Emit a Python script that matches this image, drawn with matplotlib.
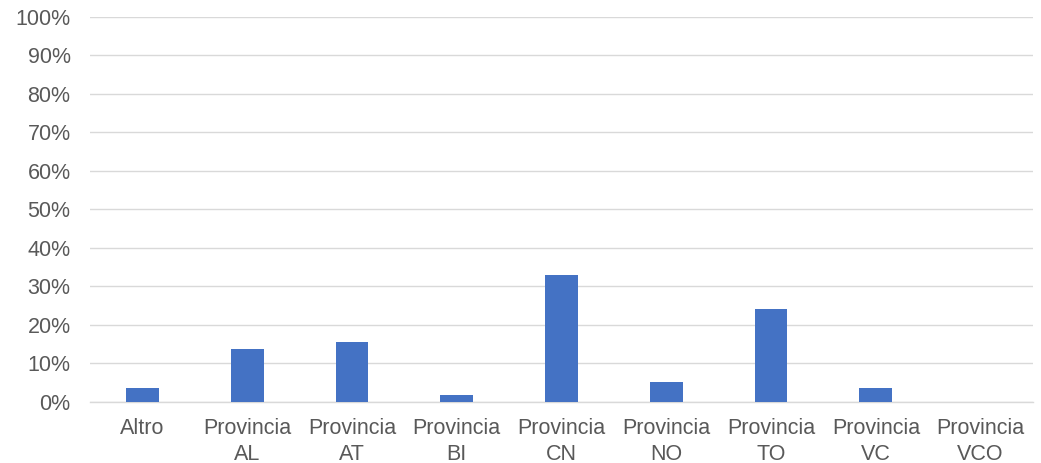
import matplotlib.pyplot as plt
from matplotlib.ticker import PercentFormatter

plt.rcParams['font.family'] = ['Liberation Sans', 'DejaVu Sans']

categories = ['Altro', 'Provincia\nAL', 'Provincia\nAT', 'Provincia\nBI', 'Provincia\nCN',
              'Provincia\nNO', 'Provincia\nTO', 'Provincia\nVC', 'Provincia\nVCO']
values = [3.4, 13.7, 15.5, 1.8, 32.8, 5.2, 24.0, 3.4, 0.0]

fig = plt.figure(figsize=(10.41, 4.63), dpi=100)
ax = fig.add_axes([90 / 1041, 1 - 401.5 / 463, 943 / 1041, 384.5 / 463])

x = list(range(len(categories)))
ax.bar(x, values, width=0.313, color='#4472C4', zorder=3)

ax.set_xlim(-0.5, len(categories) - 0.5)
ax.set_ylim(0, 100)
ax.set_yticks(range(0, 101, 10))
ax.yaxis.set_major_formatter(PercentFormatter(decimals=0))
ax.set_xticks(x)
ax.set_xticklabels(categories, linespacing=1.3)

ax.grid(True, axis='y', color='#D9D9D9', linewidth=1.0, zorder=0)
for s in ['top', 'right', 'left']:
    ax.spines[s].set_visible(False)
ax.spines['bottom'].set_color('#D9D9D9')
ax.spines['bottom'].set_linewidth(1.0)

ax.tick_params(axis='y', length=0, pad=14, labelsize=15.5, labelcolor='#595959')
ax.tick_params(axis='x', length=0, pad=12, labelsize=15.5, labelcolor='#595959')

plt.savefig('out.png', dpi=100)
